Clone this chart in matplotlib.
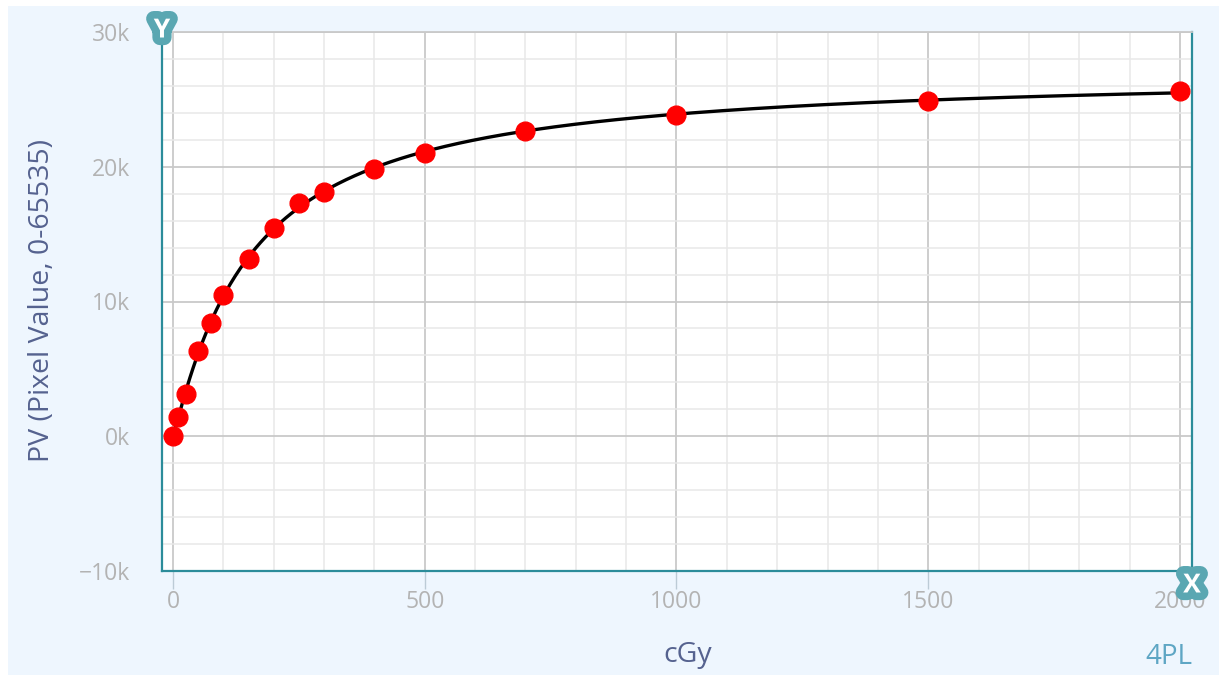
import numpy as np
import matplotlib
matplotlib.use("Agg")
import matplotlib.pyplot as plt
import matplotlib.patheffects as pe
from matplotlib.patches import Rectangle
from matplotlib.ticker import MultipleLocator, FuncFormatter

plt.rcParams["font.family"] = ["Open Sans", "DejaVu Sans"]

# calibration points: dose (cGy) vs pixel value
dose = [0, 10, 25, 50, 75, 100, 150, 200, 250, 300, 400, 500, 700, 1000, 1500, 2000]
pv = [0, 1400, 3150, 6300, 8400, 10450, 13150, 15450, 17300, 18150,
      19800, 21050, 22650, 23850, 24900, 25600]

x_ticks = [0, 500, 1000, 1500, 2000]
y_ticks = [-10000, 0, 10000, 20000, 30000]

BG = "#eef6fe"
TEAL = "#2b8c9a"
BADGE = "#5aa7b2"
TICK_TXT = "#b3b3b3"
LABEL = "#55628f"


def four_pl(x, a, b, c, d):
    return d + (a - d) / (1.0 + (x / c) ** b)


def fit_4pl(x, y):
    # crude search on b, c; a and d are linear once b, c are fixed
    x = np.asarray(x, float)
    y = np.asarray(y, float)
    best = None
    for b in np.linspace(0.7, 1.5, 81):
        for c in np.linspace(80, 300, 221):
            g = 1.0 / (1.0 + (x / c) ** b)
            A = np.column_stack([g, 1.0 - g])
            (a, d), *_ = np.linalg.lstsq(A, y, rcond=None)
            err = np.sum((A @ np.array([a, d]) - y) ** 2)
            if best is None or err < best[0]:
                best = (err, a, b, c, d)
    return best[1:]


params = fit_4pl(dose, pv)
xs = np.linspace(0, max(dose), 600)
ys = four_pl(xs, *params)

fig = plt.figure(figsize=(12.19, 6.75), dpi=100)
fig.patch.set_facecolor("white")
fig.patches.append(Rectangle((8 / 1219, 0), 1 - 8 / 1219, 1 - 6 / 675,
                             transform=fig.transFigure, facecolor=BG,
                             edgecolor="none", zorder=-10))

ax = fig.add_axes([162 / 1219, 1 - 571 / 675, 1030 / 1219, 539 / 675])
ax.set_facecolor("white")
ax.set_xlim(-22, 2024)
ax.set_ylim(-10000, 30000)

ax.xaxis.set_minor_locator(MultipleLocator(100))
ax.yaxis.set_minor_locator(MultipleLocator(2000))
ax.set_xticks(x_ticks)
ax.set_yticks(y_ticks)
ax.yaxis.set_major_formatter(FuncFormatter(lambda v, p: f"{int(v / 1000)}k".replace("-", "\u2212")))

ax.grid(which="minor", color="#e8e8e8", linewidth=1.1)
ax.grid(which="major", color="#c9c9c9", linewidth=1.3)
ax.set_axisbelow(True)

ax.tick_params(axis="x", which="major", length=13, width=1, color="#bccbd6",
               labelsize=16.5, labelcolor=TICK_TXT, pad=1)
ax.tick_params(axis="y", which="major", length=0, labelsize=16.5,
               labelcolor=TICK_TXT, pad=23)
ax.tick_params(which="minor", length=0)

for side in ("left", "bottom", "right"):
    ax.spines[side].set_color(TEAL)
    ax.spines[side].set_linewidth(1.6)
ax.spines["top"].set_color("#c9c9c9")
ax.spines["top"].set_linewidth(1.3)

ax.plot(xs, ys, color="black", linewidth=2.4, zorder=3)
ax.plot(dose, pv, "o", color="red", markersize=13.5, zorder=4, clip_on=False)

fig.text(42 / 1219, 1 - 300 / 675, "PV (Pixel Value, 0-65535)", rotation=90,
         ha="center", va="center", fontsize=20.5, color=LABEL)
fig.text(688 / 1219, 1 - 655 / 675, "cGy", ha="center", va="center",
         fontsize=20.5, color=LABEL)
fig.text(1169 / 1219, 1 - 657 / 675, "4PL", ha="center", va="center",
         fontsize=20, color="#5ea6c4")

# axis badges, drawn over the 2000 label like the app does
badge = [pe.withStroke(linewidth=11, foreground=BADGE)]
fig.text(162 / 1219, 1 - 30 / 675, "Y", ha="center", va="center", fontsize=19,
         fontweight="bold", color="white", path_effects=badge, zorder=10)
fig.text(1192 / 1219, 1 - 585 / 675, "X", ha="center", va="center", fontsize=19,
         fontweight="bold", color="white", path_effects=badge, zorder=10)

fig.savefig("out.png", dpi=100, facecolor=fig.get_facecolor())
